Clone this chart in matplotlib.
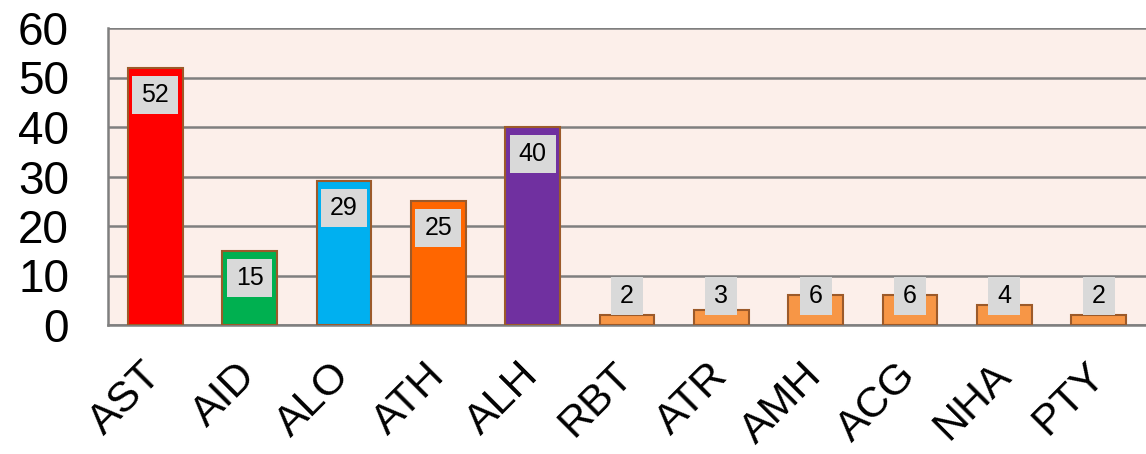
import matplotlib
matplotlib.use("Agg")
import matplotlib.pyplot as plt
from matplotlib.path import Path

plt.rcParams['font.family'] = ['Liberation Sans', 'DejaVu Sans']

# data
categories = ['AST', 'AID', 'ALO', 'ATH', 'ALH', 'RBT', 'ATR', 'AMH', 'ACG', 'NHA', 'PTY']
counts = [52, 15, 29, 25, 40, 2, 3, 6, 6, 4, 2]
bar_colors = ['#FF0000', '#00B050', '#00B0F0', '#FF6600', '#7030A0',
              '#F79646', '#F79646', '#F79646', '#F79646', '#F79646', '#F79646']
yticks = [0, 10, 20, 30, 40, 50, 60]


def label_box(x0, y0, width, height, mutation_size):
    # wider horizontal padding than vertical, like the office-style labels
    px = 0.36 * mutation_size
    py = 0.28 * mutation_size
    x0 -= px
    y0 -= py
    x1 = x0 + width + 2 * px
    y1 = y0 + height + 2 * py
    return Path([(x0, y0), (x1, y0), (x1, y1), (x0, y1), (x0, y0)], closed=True)


fig = plt.figure(figsize=(11.46, 4.54), dpi=100)
ax = fig.add_axes([108 / 1146, 129 / 454, 1 - 108 / 1146, 297 / 454])
ax.set_facecolor('#FCEFEA')

x = list(range(len(categories)))
ax.bar(x, counts, width=0.58, color=bar_colors, edgecolor='#9C5A2A', linewidth=1.5, zorder=3)

for xi, v in zip(x, counts):
    ly = max(v - 5.45, 5.9)
    ax.text(xi, ly, str(v), ha='center', va='center', fontsize=18, color='black', zorder=4,
            bbox=dict(boxstyle=label_box, fc='#D9D9D9', ec='none'))

ax.set_xlim(-0.5, len(categories) - 0.5)
ax.set_ylim(0, 60)
ax.set_yticks(yticks)
ax.yaxis.grid(True, color='#7F7F7F', linewidth=1.8, zorder=0)
ax.set_axisbelow(True)

ax.set_xticks(x)
ax.set_xticklabels(categories, rotation=45, ha='right', va='center', rotation_mode='anchor')
ax.tick_params(axis='x', length=0, labelsize=31, pad=32)
ax.tick_params(axis='y', length=0, labelsize=33, pad=28)

for side in ['top', 'right']:
    ax.spines[side].set_visible(False)
for side in ['left', 'bottom']:
    ax.spines[side].set_color('#7F7F7F')
    ax.spines[side].set_linewidth(1.8)

fig.savefig('out.png', dpi=100)
